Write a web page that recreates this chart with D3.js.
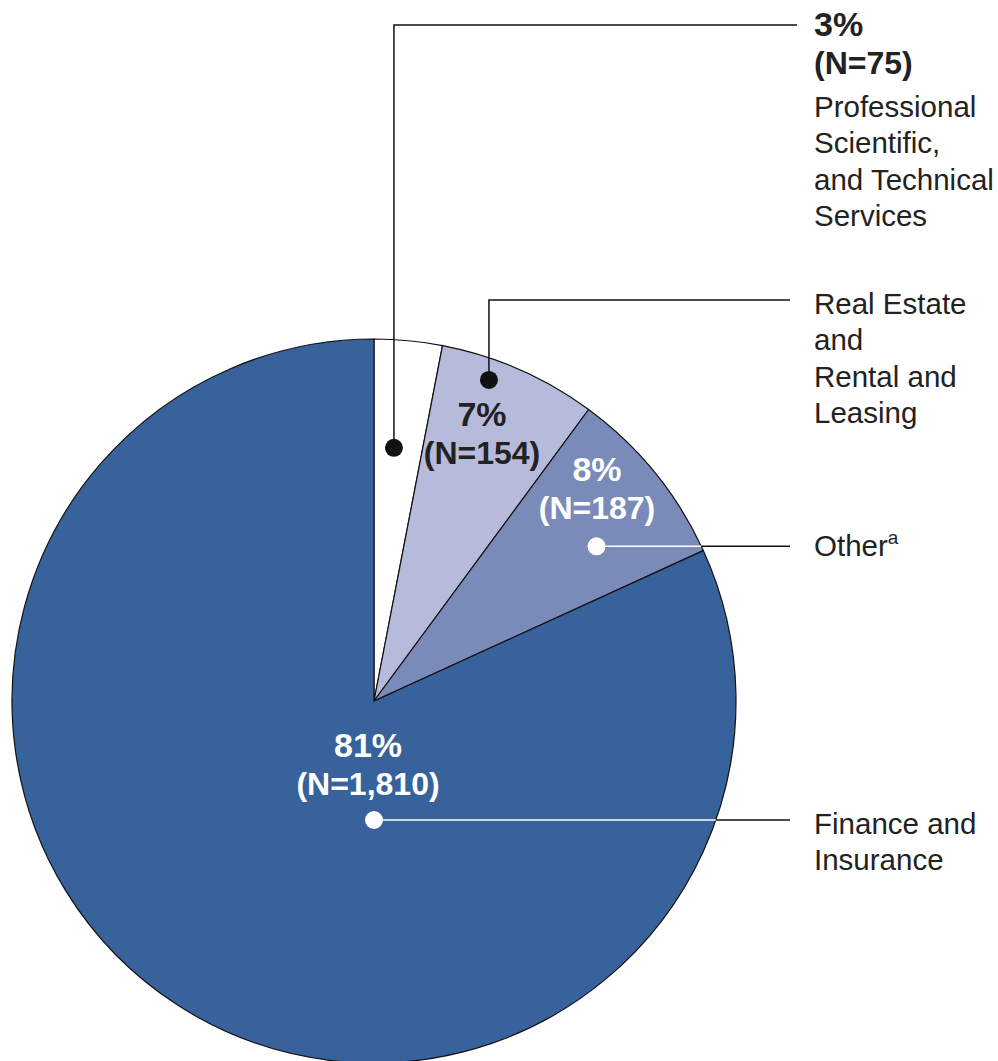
<!DOCTYPE html>
<html>
<head>
<meta charset="utf-8">
<script src="https://cdn.jsdelivr.net/npm/d3@7"></script>
<style>
  body { margin: 0; background: #fff; }
  text { font-family: "Liberation Sans", Arial, sans-serif; }
</style>
</head>
<body>
<div id="container"></div>
<script>
// data
const categories = ["Professional Scientific, and Technical Services", "Real Estate and Rental and Leasing", "Other", "Finance and Insurance"];
const percents = [3, 7, 8, 81];
const counts = ["75", "154", "187", "1,810"];
const labelLines = [
    ["Professional", "Scientific,", "and Technical", "Services"],
    ["Real Estate", "and", "Rental and", "Leasing"],
    ["Other"],
    ["Finance and", "Insurance"]
];
const sliceColors = ["#ffffff", "#b7bbdb", "#7a8ab9", "#38629c"];

const width = 998, height = 1061;
const cx = 374, cy = 701, radius = 362;

const svg = d3.select("#container")
    .append("svg")
        .attr("width", width)
        .attr("height", height);

const g = svg.append("g")
    .attr("transform", "translate(" + cx + "," + cy + ")");

const pie = d3.pie().sort(null).value(d => d);
const arcs = pie(percents);
const arc = d3.arc().innerRadius(0).outerRadius(radius);

g.selectAll("path.slice")
    .data(arcs)
    .enter().append("path")
    .attr("class", "slice")
    .attr("d", arc)
    .attr("fill", (d, i) => sliceColors[i])
    .attr("stroke", "#111")
    .attr("stroke-width", 1.2);

// point at angle a (degrees, clockwise from 12 o'clock) and radius r
function polar(a, r) {
    const rad = a * Math.PI / 180;
    return [Math.sin(rad) * r, -Math.cos(rad) * r];
}

// callout dots: angle and distance from the centre
const dotSpec = [
    { a: 4.5, r: 254 },
    { a: 19.7, r: 341 },
    { a: 55.2, r: 271 },
    { a: 180, r: 119 }
];
const dotColor = ["#111", "#111", "#fff", "#fff"];
const labelX = 814 - cx;
const lineEnd = [797 - cx, 790 - cx, 790 - cx, 790 - cx];
const elbowY = [25 - cy, 300 - cy, null, null];

arcs.forEach((d, i) => {
    const p = polar(dotSpec[i].a, dotSpec[i].r);
    if (elbowY[i] !== null) {
        g.append("path")
            .attr("d", d3.line()([p, [p[0], elbowY[i]], [lineEnd[i], elbowY[i]]]))
            .attr("fill", "none")
            .attr("stroke", "#111")
            .attr("stroke-width", 1.5);
    } else {
        const edgeX = Math.sqrt(radius * radius - p[1] * p[1]);
        g.append("line")
            .attr("x1", p[0]).attr("y1", p[1])
            .attr("x2", edgeX).attr("y2", p[1])
            .attr("stroke", "#fff")
            .attr("stroke-width", 1.5);
        g.append("line")
            .attr("x1", edgeX).attr("y1", p[1])
            .attr("x2", lineEnd[i]).attr("y2", p[1])
            .attr("stroke", "#111")
            .attr("stroke-width", 1.5);
    }
    g.append("circle")
        .attr("cx", p[0]).attr("cy", p[1])
        .attr("r", 9)
        .attr("fill", dotColor[i]);
});

// outside labels
const labelTop = [117 - cy, 314 - cy, 556 - cy, 834 - cy];
labelLines.forEach((lines, i) => {
    const t = g.append("text")
        .attr("x", labelX)
        .attr("y", labelTop[i])
        .attr("font-size", 29.5)
        .attr("fill", "#222");
    lines.forEach((s, j) => {
        t.append("tspan")
            .attr("x", labelX)
            .attr("dy", j === 0 ? 0 : 36.3)
            .text(s);
    });
    if (i === 2) {
        t.append("tspan")
            .attr("font-size", 19)
            .attr("dy", -12)
            .text("a");
    }
});

// percent + N labels
const valuePos = [
    { x: 814 - cx, y: 36 - cy, anchor: "start", color: "#222" },
    { x: 482 - cx, y: 426 - cy, anchor: "middle", color: "#222" },
    { x: 597 - cx, y: 481 - cy, anchor: "middle", color: "#fff" },
    { x: 368 - cx, y: 757 - cy, anchor: "middle", color: "#fff" }
];
arcs.forEach((d, i) => {
    const v = valuePos[i];
    const t = g.append("text")
        .attr("x", v.x)
        .attr("y", v.y)
        .attr("text-anchor", v.anchor)
        .attr("font-weight", "bold")
        .attr("fill", v.color);
    t.append("tspan").attr("x", v.x).attr("font-size", 34).text(percents[i] + "%");
    t.append("tspan").attr("x", v.x).attr("dy", 38).attr("font-size", 32).text("(N=" + counts[i] + ")");
});
</script>
</body>
</html>
